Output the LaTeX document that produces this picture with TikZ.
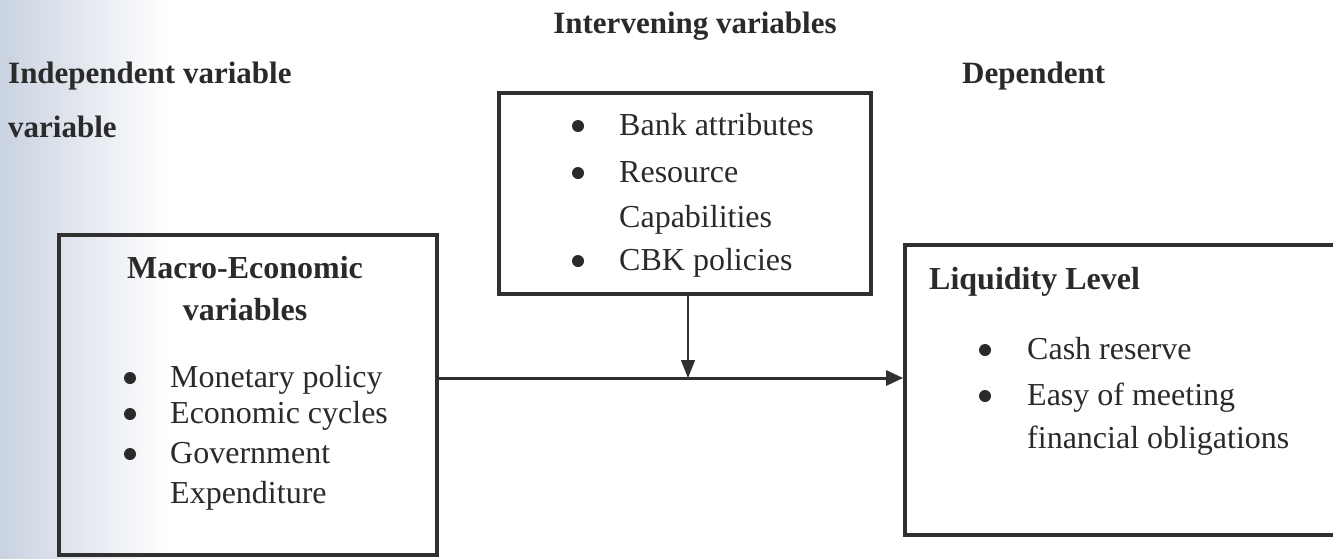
\documentclass[tikz,border=0pt]{standalone}
\usepackage{fontspec}
\setmainfont{Liberation Serif}
\usetikzlibrary{arrows.meta}
\definecolor{ink}{HTML}{2A2A2A}
\definecolor{frame}{HTML}{303030}
\definecolor{scan}{HTML}{C9D2E0}
\begin{document}
\begin{tikzpicture}[x=1pt,y=-1pt,
  body/.style={inner sep=0pt, anchor=base west, text=ink, font=\fontsize{32}{38}\selectfont},
  head/.style={inner sep=0pt, anchor=base west, text=ink, font=\fontsize{32}{38}\selectfont\bfseries},
  label/.style={inner sep=0pt, anchor=base west, text=ink, font=\fontsize{31}{37}\selectfont\bfseries},
  bul/.style={circle, fill=ink, inner sep=0pt, minimum size=12pt},
  box/.style={draw=frame, line width=3.8pt, inner sep=0pt, fill=none},
  mainarrow/.style={draw=frame, line width=3pt, -{Triangle[length=17pt,width=15pt]}},
  sidearrow/.style={draw=frame, line width=1.5pt, -{Triangle[length=18pt,width=14pt]}}
]
\useasboundingbox (0,0) rectangle (1333,558);
\shade[left color=scan, right color=white] (0,0) rectangle (170,558);

% titles
\node[label, anchor=base] (tint) at (695,33) {Intervening variables};
\node[label] (tind1) at (8,83) {Independent variable};
\node[label] (tind2) at (8,137) {variable};
\node[label] (tdep) at (962,83) {Dependent};

% boxes
\node[box, minimum width=378pt, minimum height=320pt] (macro) at (248,395) {};
\node[box, minimum width=372pt, minimum height=201pt] (inter) at (685,193.5) {};
\node[box, minimum width=440pt, minimum height=290pt] (liq) at (1125,390) {};

% left box text
\node[head, anchor=base] (m1) at (245,278) {Macro-Economic};
\node[head, anchor=base] (m2) at (245,320) {variables};
\node[bul] (mb1) at (130,378) {};
\node[body] (mt1) at (170,387) {Monetary policy};
\node[bul] (mb2) at (130,414) {};
\node[body] (mt2) at (170,423) {Economic cycles};
\node[bul] (mb3) at (130,454) {};
\node[body] (mt3) at (170,463) {Government};
\node[body] (mt4) at (170,503) {Expenditure};

% middle box text
\node[bul] (ib1) at (578,126) {};
\node[body] (it1) at (619,135) {Bank attributes};
\node[bul] (ib2) at (578,173) {};
\node[body] (it2) at (619,182) {Resource};
\node[body] (it3) at (619,227) {Capabilities};
\node[bul] (ib3) at (578,261) {};
\node[body] (it4) at (619,270) {CBK policies};

% right box text
\node[head] (l1) at (929,289) {Liquidity Level};
\node[bul] (lb1) at (985,350) {};
\node[body] (lt1) at (1027,359) {Cash reserve};
\node[bul] (lb2) at (985,396) {};
\node[body] (lt2) at (1027,405) {Easy of meeting};
\node[body] (lt3) at (1027,448) {financial obligations};

% connectors
\coordinate (j) at (688,378);
\draw[mainarrow] (macro.east |- j) -- (liq.west |- j);
\draw[sidearrow] (inter.south -| j) -- (j);
\end{tikzpicture}
\end{document}
